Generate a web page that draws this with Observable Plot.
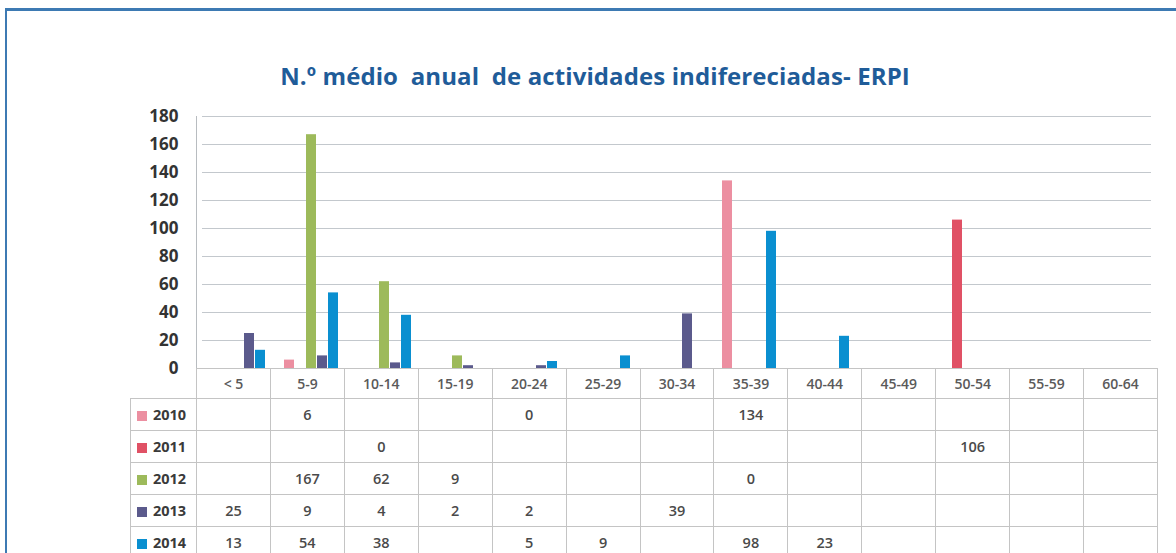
<!DOCTYPE html>
<html>
<head>
<meta charset="utf-8">
<script src="https://cdn.jsdelivr.net/npm/d3@7"></script>
<script src="https://cdn.jsdelivr.net/npm/@observablehq/plot@0.6"></script>
<style>
  html, body { margin: 0; padding: 0; background: #fff; }
  #wrap { position: relative; width: 1176px; height: 553px; overflow: hidden; background: #fff; }
  #frameTop { position: absolute; left: 5px; top: 8px; width: 1171px; height: 3px; background: #3d7ab3; }
  #frameLeft { position: absolute; left: 5px; top: 8px; width: 2px; height: 545px; background: #3d7ab3; }
  #title { position: absolute; left: 0; width: 1190px; top: 59px; text-align: center; white-space: pre;
           font-family: "Open Sans", sans-serif; font-weight: 700; font-size: 24px; color: #1f5c99; letter-spacing: 0.1px; }
  #chart { position: absolute; left: 0; top: 0; }
  #vline { position: absolute; left: 196px; top: 116px; width: 1px; height: 252px; background: #b8bcc0; }
  table { position: absolute; left: 130px; top: 368px; border-collapse: collapse; table-layout: fixed;
          font-family: "Open Sans", sans-serif; }
  td { border: 1px solid #c4c4c4; text-align: center; padding: 0; font-size: 14.5px; font-weight: 600; color: #4a4a4a; }
  tr.head td { height: 29px; color: #5a5a5a; font-weight: 600; font-size: 14px; }
  tr.row td { height: 31px; }
  td.blank { border-left: none; border-top: none; }
  td.leg { text-align: left; padding-left: 6px; font-weight: 700; font-size: 14.5px; color: #3a3a3a; white-space: nowrap; }
  .sw { display: inline-block; width: 10px; height: 10px; margin-right: 6px; vertical-align: -1px; }
</style>
</head>
<body>
<div id="wrap">
  <div id="frameTop"></div>
  <div id="frameLeft"></div>
  <div id="title"></div>
  <div id="chart"></div>
  <div id="vline"></div>
  <table id="tbl"></table>
</div>
<script>
const titleText = "N.º médio  anual  de actividades indifereciadas- ERPI";
const categories = ["< 5","5-9","10-14","15-19","20-24","25-29","30-34","35-39","40-44","45-49","50-54","55-59","60-64"];
const years = ["2010","2011","2012","2013","2014"];
const colors = ["#ec8fa1","#e05165","#9dba5b","#5b5a8c","#0a8fd0"];
const yTicks = [0,20,40,60,80,100,120,140,160,180];
const v2010 = [null,6,null,null,0,null,null,134,null,null,null,null,null];
const v2011 = [null,null,0,null,null,null,null,null,null,null,106,null,null];
const v2012 = [null,167,62,9,null,null,null,0,null,null,null,null,null];
const v2013 = [25,9,4,2,2,null,39,null,null,null,null,null,null];
const v2014 = [13,54,38,null,5,9,null,98,23,null,null,null,null];
const series = [v2010, v2011, v2012, v2013, v2014];

document.getElementById("title").textContent = titleText;

const data = [];
series.forEach((vals, i) => vals.forEach((v, j) => {
  if (v !== null) data.push({cat: categories[j], year: years[i], value: v});
}));
const grid = categories.flatMap(c => yTicks.map(t => ({cat: c, y: t})));

const chart = Plot.plot({
  width: 1176, height: 400,
  marginLeft: 196, marginRight: 19, marginTop: 116, marginBottom: 32,
  style: {background: "transparent"},
  fx: {domain: categories, padding: 0, axis: null, label: null},
  x: {domain: years, paddingInner: 0.06, paddingOuter: 0.7, axis: null},
  y: {domain: [0, 180], label: null},
  color: {domain: years, range: colors},
  marks: [
    Plot.ruleY(grid, {fx: "cat", y: "y", stroke: "#c3c8cd", strokeWidth: 1.2}),
    Plot.barY(data, {fx: "cat", x: "year", y: "value", fill: "year"}),
    Plot.axisY({ticks: yTicks, tickSize: 0, tickPadding: 24, fontSize: 17, fontWeight: 700,
                fontFamily: "Open Sans", fill: "#333", label: null})
  ]
});
document.getElementById("chart").appendChild(chart);

// table
const tbl = document.getElementById("tbl");
const colW = (1176 - 196 - 19) / categories.length;
let html = '<colgroup><col style="width:66px">' + categories.map(() => `<col style="width:${colW}px">`).join("") + '</colgroup>';
html += '<tr class="head"><td class="blank"></td>' + categories.map(c => `<td>${c}</td>`).join("") + '</tr>';
series.forEach((vals, i) => {
  html += `<tr class="row"><td class="leg"><span class="sw" style="background:${colors[i]}"></span>${years[i]}</td>` +
    vals.map(v => `<td>${v === null ? "" : v}</td>`).join("") + '</tr>';
});
tbl.innerHTML = html;
</script>
</body>
</html>
